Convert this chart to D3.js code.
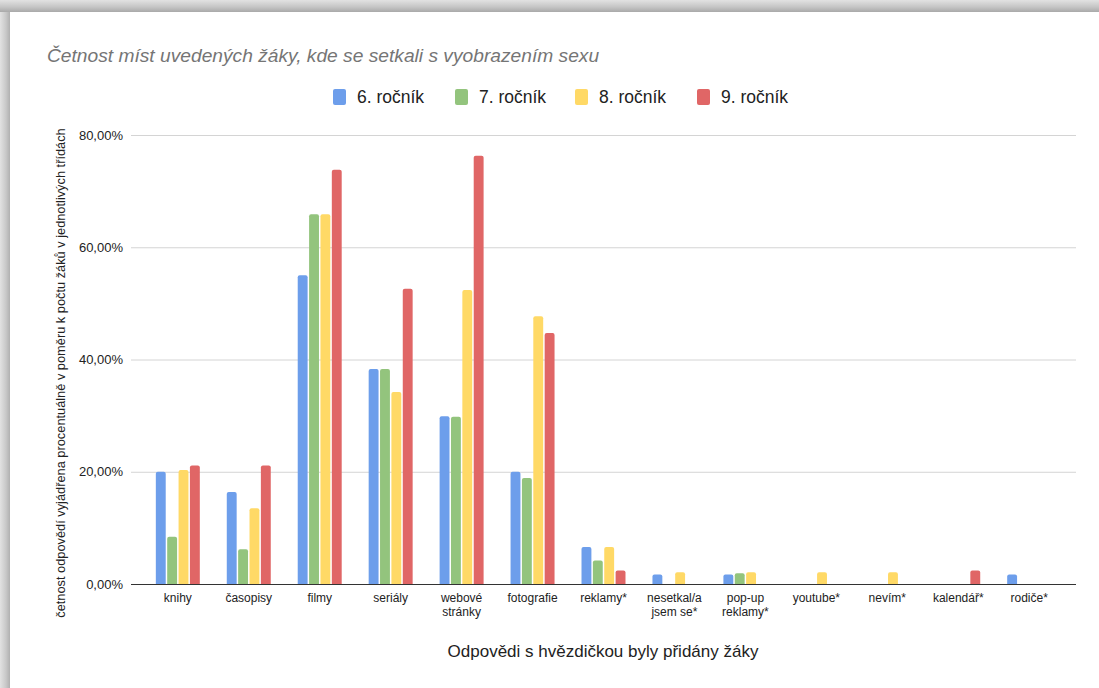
<!DOCTYPE html>
<html><head><meta charset="utf-8">
<script src="https://cdn.jsdelivr.net/npm/d3@7"></script>
<style>
html,body{margin:0;padding:0;background:#fff;}
svg{display:block;font-family:"Liberation Sans",Arial,Helvetica,sans-serif;}
</style></head>
<body>
<svg id="chart" width="1099" height="688"></svg>
<script>
const categories = ["knihy","časopisy","filmy","seriály","webové stránky","fotografie","reklamy*","nesetkal/a jsem se*","pop-up reklamy*","youtube*","nevím*","kalendář*","rodiče*"];
const categoryLines = [["knihy"],["časopisy"],["filmy"],["seriály"],["webové","stránky"],["fotografie"],["reklamy*"],["nesetkal/a","jsem se*"],["pop-up","reklamy*"],["youtube*"],["nevím*"],["kalendář*"],["rodiče*"]];
const seriesNames = ["6. ročník","7. ročník","8. ročník","9. ročník"];
const seriesColors = ["#6d9eeb","#93c47d","#ffd966","#e06666"];
const grade6 = [20.0,16.4,55.0,38.3,29.9,20.0,6.6,1.7,1.7,0,0,0,1.7];
const grade7 = [8.4,6.2,65.9,38.3,29.8,18.9,4.2,0,1.9,0,0,0,0];
const grade8 = [20.3,13.5,65.9,34.2,52.4,47.7,6.6,2.1,2.1,2.1,2.1,0,0];
const grade9 = [21.1,21.1,73.8,52.6,76.3,44.7,2.4,0,0,0,0,2.4,0];
const yTicks = [0,20,40,60,80];
const yTickLabels = ["0,00%","20,00%","40,00%","60,00%","80,00%"];
const titleText = "Četnost míst uvedených žáky, kde se setkali s vyobrazením sexu";
const yAxisTitle = "četnost odpovědí vyjádřena procentuálně v poměru k počtu žáků v jednotlivých třídách";
const xAxisTitle = "Odpovědi s hvězdičkou byly přidány žáky";

const series = [grade6, grade7, grade8, grade9];
const svg = d3.select("#chart");

// screenshot frame shadow
const defs = svg.append("defs");
const gTop = defs.append("linearGradient").attr("id","gTop").attr("x1",0).attr("y1",0).attr("x2",0).attr("y2",1);
gTop.append("stop").attr("offset","0%").attr("stop-color","#e2e2e2");
gTop.append("stop").attr("offset","60%").attr("stop-color","#c4c4c4");
gTop.append("stop").attr("offset","100%").attr("stop-color","#a9a9a9");
const gLeft = defs.append("linearGradient").attr("id","gLeft").attr("x1",0).attr("y1",0).attr("x2",1).attr("y2",0);
gLeft.append("stop").attr("offset","0%").attr("stop-color","#e2e2e2");
gLeft.append("stop").attr("offset","60%").attr("stop-color","#c8c8c8");
gLeft.append("stop").attr("offset","100%").attr("stop-color","#b0b0b0");
svg.append("rect").attr("x",0).attr("y",0).attr("width",10).attr("height",688).attr("fill","url(#gLeft)");
svg.append("rect").attr("x",0).attr("y",0).attr("width",1099).attr("height",12).attr("fill","url(#gTop)");

const x0 = d3.scaleBand().domain(categories).range([131,1076]).paddingInner(0.38).paddingOuter(0.35);
const x1 = d3.scaleBand().domain(seriesNames).range([0,x0.bandwidth()]).paddingInner(0.13);
const y = d3.scaleLinear().domain([0,80]).range([584,135]);

// title
svg.append("text").attr("x",47).attr("y",62).attr("font-size",19.2).attr("font-style","italic")
  .attr("fill","#757575").text(titleText);

// legend
const legendX = [333,455,575,697];
const lg = svg.append("g");
seriesNames.forEach((s,i)=>{
  lg.append("rect").attr("x",legendX[i]).attr("y",89).attr("width",13).attr("height",16).attr("rx",2).attr("fill",seriesColors[i]);
  lg.append("text").attr("x",legendX[i]+24).attr("y",103).attr("font-size",17.5).attr("fill","#222").text(s);
});

// gridlines
const yAxis = d3.axisLeft(y).tickValues(yTicks).tickSize(-(1076-131)).tickFormat((d,i)=>yTickLabels[i]);
const ga = svg.append("g").attr("transform","translate(131,0)").call(yAxis);
ga.select(".domain").remove();
ga.selectAll(".tick line").attr("stroke","#d4d4d4").attr("stroke-width",1);
ga.selectAll(".tick text").attr("x",-8).attr("font-size",13).attr("fill","#222").attr("font-family","Liberation Sans, Arial, sans-serif");

// bars
function barPath(x, w, y0, y1){
  const h = y0 - y1;
  if (h <= 0) return "";
  const r = Math.min(2, h, w/2);
  return `M${x},${y0}V${y1+r}Q${x},${y1} ${x+r},${y1}H${x+w-r}Q${x+w},${y1} ${x+w},${y1+r}V${y0}Z`;
}
const bars = svg.append("g");
categories.forEach((c,ci)=>{
  series.forEach((vals,si)=>{
    const v = vals[ci];
    if (!v) return;
    bars.append("path")
      .attr("d", barPath(x0(c)+x1(seriesNames[si]), x1.bandwidth(), y(0), y(v)))
      .attr("fill", seriesColors[si]);
  });
});

// x axis baseline
svg.append("line").attr("x1",131).attr("x2",1076).attr("y1",y(0)+0.5).attr("y2",y(0)+0.5).attr("stroke","#333").attr("stroke-width",1);

// x labels
const xl = svg.append("g");
categories.forEach((c,ci)=>{
  const t = xl.append("text").attr("x",x0(c)+x0.bandwidth()/2).attr("y",602).attr("text-anchor","middle")
    .attr("font-size",12).attr("fill","#222");
  categoryLines[ci].forEach((ln,li)=>{
    t.append("tspan").attr("x",x0(c)+x0.bandwidth()/2).attr("dy",li===0?0:14).text(ln);
  });
});

// axis titles
svg.append("text").attr("x",603).attr("y",657).attr("text-anchor","middle").attr("font-size",17).attr("fill","#222").text(xAxisTitle);
svg.append("text").attr("transform","translate(65,373) rotate(-90)").attr("text-anchor","middle")
  .attr("font-size",12.8).attr("fill","#222").text(yAxisTitle);
</script>
</body></html>
